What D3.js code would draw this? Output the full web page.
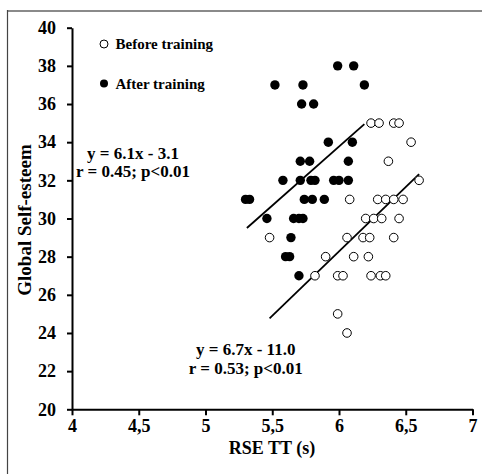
<!DOCTYPE html>
<html><head><meta charset="utf-8">
<script src="https://cdn.jsdelivr.net/npm/d3@7"></script>
<style>html,body{margin:0;padding:0;background:#fff;}svg{display:block;}</style>
</head><body>
<svg id="chart" width="482" height="474"></svg>
<script>
// Before training (open circles): RSE TT (s), Global Self-esteem
const beforeX = [6.24,6.30,6.41,6.45, 6.54, 6.37, 6.60, 6.08,6.29,6.35,6.41,6.48, 6.20,6.26,6.32,6.45, 5.48,6.06,6.18,6.23,6.41, 5.90,6.11,6.22, 5.82,5.99,6.03,6.24,6.31,6.35, 5.99, 6.06];
const beforeY = [35,35,35,35, 34, 33, 32, 31,31,31,31,31, 30,30,30,30, 29,29,29,29,29, 28,28,28, 27,27,27,27,27,27, 25, 24];
// After training (filled circles)
const afterX = [5.99,6.11, 5.52,5.73,6.19, 5.72,5.81, 5.92,6.10, 5.71,5.78,6.07, 5.58,5.71,5.79,5.82,5.96,6.00,6.07, 5.30,5.33,5.74,5.80,5.89, 5.46,5.66,5.70,5.73, 5.64, 5.60,5.63, 5.70];
const afterY = [38,38, 37,37,37, 36,36, 34,34, 33,33,33, 32,32,32,32,32,32,32, 31,31,31,31,31, 30,30,30,30, 29, 28,28, 27];
// Trend lines (endpoints)
const trendAfterX = [5.31, 6.19];
const trendAfterY = [29.5, 34.95];
const trendBeforeX = [5.48, 6.60];
const trendBeforeY = [24.77, 32.33];
const xTicks = [4, 4.5, 5, 5.5, 6, 6.5, 7];
const xTickLabels = ["4", "4,5", "5", "5,5", "6", "6,5", "7"];
const yTicks = [20, 22, 24, 26, 28, 30, 32, 34, 36, 38, 40];
const legendLabels = ["Before training", "After training"];
const eqAfter = ["y = 6.1x - 3.1", "r = 0.45; p<0.01"];
const eqBefore = ["y = 6.7x - 11.0", "r = 0.53; p<0.01"];

const svg = d3.select("#chart");
const font = "'Liberation Serif', 'Times New Roman', serif";
const x = d3.scaleLinear().domain([4, 7]).range([72, 472.5]);
const y = d3.scaleLinear().domain([20, 40]).range([409.3, 27.7]);

// frame
svg.append("line").attr("x1", 7.5).attr("x2", 482).attr("y1", 11).attr("y2", 11)
  .attr("stroke", "#8a8a8a").attr("stroke-width", 2);
svg.append("line").attr("x1", 7.5).attr("x2", 7.5).attr("y1", 10).attr("y2", 474)
  .attr("stroke", "#444").attr("stroke-width", 1.2);

// axes
const xAxis = d3.axisBottom(x).tickValues(xTicks).tickFormat((d, i) => xTickLabels[i])
  .tickSizeInner(6).tickSizeOuter(0).tickPadding(4);
const gx = svg.append("g").attr("transform", `translate(0,${y(20)})`).call(xAxis);
const yAxis = d3.axisLeft(y).tickValues(yTicks).tickFormat(d3.format("d"))
  .tickSizeInner(5).tickSizeOuter(0).tickPadding(11);
const gy = svg.append("g").attr("transform", `translate(${x(4)},0)`).call(yAxis);
[gx, gy].forEach(g => {
  g.select(".domain").attr("stroke", "#000").attr("stroke-width", 2);
  g.selectAll(".tick line").attr("stroke", "#000").attr("stroke-width", 2);
  g.selectAll(".tick text").attr("fill", "#000").style("font-family", font)
    .style("font-weight", "bold").style("font-size", "18px");
});
gx.selectAll(".tick text").attr("dy", "0.71em");

// axis titles
svg.append("text").attr("x", 272).attr("y", 454).attr("text-anchor", "middle")
  .style("font-family", font).style("font-weight", "bold").style("font-size", "18px")
  .text("RSE TT (s)");
svg.append("text").attr("transform", "translate(31,220) rotate(-90)").attr("text-anchor", "middle")
  .style("font-family", font).style("font-weight", "bold").style("font-size", "19px")
  .text("Global Self-esteem");

// trend lines
const lineGen = d3.line().x(d => x(d[0])).y(d => y(d[1]));
svg.append("path").attr("d", lineGen(d3.zip(trendAfterX, trendAfterY)))
  .attr("stroke", "#000").attr("stroke-width", 1.8).attr("fill", "none");
svg.append("path").attr("d", lineGen(d3.zip(trendBeforeX, trendBeforeY)))
  .attr("stroke", "#000").attr("stroke-width", 1.8).attr("fill", "none");

// points
svg.append("g").selectAll("circle").data(d3.zip(beforeX, beforeY)).join("circle")
  .attr("cx", d => x(d[0])).attr("cy", d => y(d[1])).attr("r", 4.3)
  .attr("fill", "#fff").attr("stroke", "#000").attr("stroke-width", 1);
svg.append("g").selectAll("circle").data(d3.zip(afterX, afterY)).join("circle")
  .attr("cx", d => x(d[0])).attr("cy", d => y(d[1])).attr("r", 4.7)
  .attr("fill", "#000");

// legend
const leg = svg.append("g");
leg.append("circle").attr("cx", 104).attr("cy", 44).attr("r", 4)
  .attr("fill", "#fff").attr("stroke", "#000").attr("stroke-width", 1);
leg.append("circle").attr("cx", 104).attr("cy", 83.5).attr("r", 4).attr("fill", "#000");
legendLabels.forEach((t, i) => {
  leg.append("text").attr("x", 115.5).attr("y", i === 0 ? 49 : 88.5)
    .style("font-family", font).style("font-weight", "bold").style("font-size", "15px").text(t);
});

// equations
function eq(lines, cx, y0, y1) {
  [y0, y1].forEach((yy, i) => {
    svg.append("text").attr("x", cx).attr("y", yy).attr("text-anchor", "middle")
      .style("font-family", font).style("font-weight", "bold").style("font-size", "17px")
      .text(lines[i]);
  });
}
eq(eqAfter, 133, 159, 176.5);
eq(eqBefore, 245.7, 355, 374);
</script>
</body></html>
